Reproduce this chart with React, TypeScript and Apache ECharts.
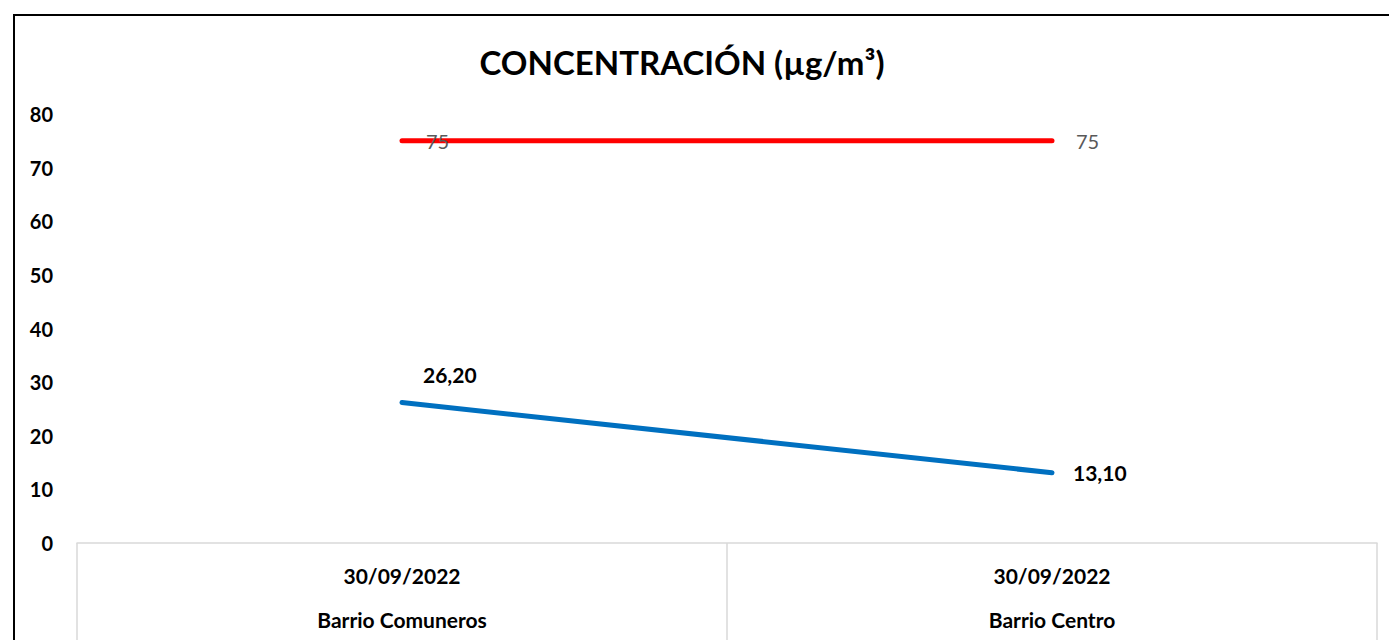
import React, { useEffect, useRef } from "react";
import * as echarts from "echarts";

const dates = ["30/09/2022", "30/09/2022"];
const sites = ["Barrio Comuneros", "Barrio Centro"];
const concentration = [26.2, 13.1];
const limit = [75, 75];
const yTicks = { min: 0, max: 80, interval: 10 };
const titleText = "CONCENTRACIÓN (µg/m³)";

const FONT = "Lato, 'Open Sans', sans-serif";

export default function App() {
  const ref = useRef<HTMLDivElement>(null);
  useEffect(() => {
    document.body.style.margin = "0";
    const chart = echarts.init(ref.current!, null, { renderer: "svg" });
    const categories = dates.map((d, i) => `${d}\n${sites[i]}`);
    chart.setOption({
      animation: false,
      backgroundColor: "#ffffff",
      textStyle: { fontFamily: FONT },
      title: {
        text: titleText,
        left: 677,
        top: 40,
        textAlign: "center",
        textStyle: { fontFamily: FONT, fontSize: 33, fontWeight: "bold", color: "#000" },
      },
      graphic: [
        {
          type: "rect",
          shape: { x: 14, y: 15, width: 1500, height: 800 },
          style: { fill: "none", stroke: "#000", lineWidth: 2 },
          silent: true,
        },
      ],
      grid: { left: 77, right: 12, top: 114, bottom: 97, containLabel: false, outerBoundsMode: "none" },
      xAxis: {
        type: "category",
        data: categories,
        boundaryGap: true,
        axisLine: { show: true, lineStyle: { color: "#d9d9d9", width: 1.5 } },
        axisTick: { show: true, length: 97, lineStyle: { color: "#d9d9d9", width: 1.5 } },
        axisLabel: {
          margin: 10,
          fontFamily: FONT,
          fontSize: 21,
          fontWeight: "bold",
          color: "#000",
          lineHeight: 44,
        },
      },
      yAxis: {
        type: "value",
        min: yTicks.min,
        max: yTicks.max,
        interval: yTicks.interval,
        splitLine: { show: false },
        axisLine: { show: false },
        axisTick: { show: false },
        axisLabel: {
          margin: 24,
          fontFamily: FONT,
          fontSize: 20,
          fontWeight: "bold",
          color: "#000",
        },
      },
      series: [
        {
          type: "line",
          name: "Límite",
          data: limit,
          symbol: "circle",
          symbolSize: 0.01,
          showSymbol: true,
          itemStyle: { color: "#ff0000" },
          lineStyle: { color: "#ff0000", width: 5, cap: "round" },
          label: {
            show: true,
            position: "right",
            distance: 24,
            fontFamily: FONT,
            fontSize: 20,
            color: "#595959",
            formatter: (p: any) => String(p.value),
          },
        },
        {
          type: "line",
          name: "Concentración",
          data: concentration.map((v, i) =>
            i === 0
              ? { value: v, label: { position: "right", offset: [0, -28] } }
              : { value: v }
          ),
          symbol: "circle",
          symbolSize: 0.01,
          showSymbol: true,
          itemStyle: { color: "#0070c0" },
          lineStyle: { color: "#0070c0", width: 5, cap: "round" },
          label: {
            show: true,
            position: "right",
            distance: 21,
            fontFamily: FONT,
            fontSize: 21,
            fontWeight: "bold",
            color: "#000",
            formatter: (p: any) => Number(p.value).toFixed(2).replace(".", ","),
          },
        },
      ],
    });
    return () => chart.dispose();
  }, []);
  return <div ref={ref} style={{ width: 1389, height: 640 }} />;
}
